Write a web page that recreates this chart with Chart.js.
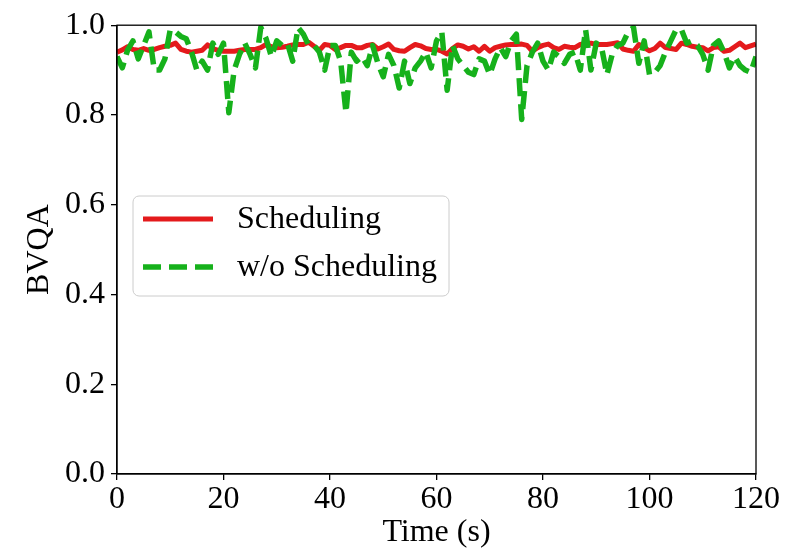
<!DOCTYPE html>
<html>
<head>
<meta charset="utf-8">
<script src="https://cdn.jsdelivr.net/npm/chart.js@4.4.0/dist/chart.umd.min.js"></script>
<style>
html,body{margin:0;padding:0;background:#fff;}
#wrap{width:805px;height:554px;}
</style>
</head>
<body>
<div id="wrap"><canvas id="c" width="805" height="554"></canvas></div>
<script>
const timeSec = Array.from({length: 121}, (_, i) => i);
const scheduling = [
0.940,0.945,0.952,0.946,0.944,0.948,0.944,0.946,0.950,0.953,
0.955,0.960,0.946,0.942,0.940,0.942,0.944,0.956,0.948,0.944,
0.942,0.942,0.942,0.944,0.946,0.946,0.946,0.950,0.957,0.952,
0.950,0.951,0.953,0.956,0.957,0.957,0.962,0.953,0.944,0.957,
0.955,0.946,0.950,0.955,0.955,0.950,0.950,0.955,0.957,0.947,
0.952,0.958,0.946,0.943,0.942,0.950,0.957,0.954,0.948,0.946,
0.946,0.942,0.936,0.948,0.956,0.953,0.947,0.952,0.942,0.953,
0.942,0.950,0.953,0.956,0.957,0.957,0.958,0.955,0.942,0.950,
0.955,0.958,0.950,0.946,0.953,0.951,0.950,0.957,0.959,0.960,
0.957,0.957,0.957,0.959,0.961,0.947,0.944,0.942,0.957,0.950,
0.943,0.948,0.960,0.950,0.948,0.946,0.960,0.957,0.953,0.951,
0.950,0.943,0.950,0.952,0.942,0.944,0.952,0.960,0.950,0.954,
0.958];
const withoutScheduling = [
0.930,0.905,0.945,0.965,0.925,0.955,0.985,0.900,0.900,0.925,
0.990,0.985,0.975,0.970,0.940,0.900,0.920,0.900,0.960,0.935,
0.960,0.805,0.900,0.935,0.960,0.935,0.905,0.995,0.970,0.930,
0.965,0.955,0.960,0.920,0.995,0.980,0.955,0.955,0.940,0.900,
0.955,0.955,0.920,0.805,0.940,0.920,0.930,0.910,0.955,0.915,
0.885,0.935,0.910,0.860,0.920,0.870,0.905,0.920,0.940,0.905,
0.965,0.985,0.855,0.955,0.925,0.910,0.895,0.890,0.925,0.920,
0.890,0.925,0.950,0.930,0.965,0.980,0.790,0.910,0.940,0.960,
0.920,0.900,0.940,0.930,0.915,0.935,0.940,0.900,0.990,0.900,
0.960,0.950,0.890,0.935,0.955,0.960,0.985,0.995,0.915,0.965,
0.890,0.895,0.910,0.940,0.965,0.990,0.990,0.960,0.965,0.955,
0.935,0.900,0.955,0.965,0.940,0.905,0.930,0.910,0.900,0.895,
0.930];
const xTicks = [0, 20, 40, 60, 80, 100, 120];
const yTicks = [0.0, 0.2, 0.4, 0.6, 0.8, 1.0];
const seriesNames = ['Scheduling', 'w/o Scheduling'];

const FONT = 'Liberation Serif';
const RED = '#e41a1c';
const GREEN = '#16b11b';

const toPts = arr => arr.map((v, i) => ({x: timeSec[i], y: v}));

const framePlugin = {
  id: 'frame',
  afterDatasetsDraw(chart) {
    const {ctx, chartArea: a} = chart;
    ctx.save();
    ctx.strokeStyle = '#000';
    ctx.lineWidth = 1.3;
    ctx.strokeRect(a.left, a.top, a.right - a.left, a.bottom - a.top);
    ctx.restore();
  }
};

const legendPlugin = {
  id: 'innerLegend',
  afterDraw(chart) {
    const {ctx} = chart;
    const x0 = 133, y0 = 196, w = 316, h = 100, r = 6;
    ctx.save();
    ctx.beginPath();
    ctx.moveTo(x0 + r, y0);
    ctx.arcTo(x0 + w, y0, x0 + w, y0 + h, r);
    ctx.arcTo(x0 + w, y0 + h, x0, y0 + h, r);
    ctx.arcTo(x0, y0 + h, x0, y0, r);
    ctx.arcTo(x0, y0, x0 + w, y0, r);
    ctx.closePath();
    ctx.fillStyle = 'rgba(255,255,255,0.8)';
    ctx.fill();
    ctx.strokeStyle = '#cccccc';
    ctx.lineWidth = 1;
    ctx.stroke();
    const rows = [219, 267];
    chart.data.datasets.forEach((ds, i) => {
      const y = rows[i];
      ctx.beginPath();
      ctx.setLineDash(ds.borderDash || []);
      ctx.lineDashOffset = 0;
      ctx.strokeStyle = ds.borderColor;
      ctx.lineWidth = ds.borderWidth;
      ctx.lineCap = 'butt';
      ctx.moveTo(143, y);
      ctx.lineTo(213, y);
      ctx.stroke();
      ctx.setLineDash([]);
      ctx.fillStyle = '#000';
      ctx.font = '32px "' + FONT + '"';
      ctx.textBaseline = 'middle';
      ctx.textAlign = 'left';
      ctx.fillText(ds.label, 237, y + 1);
    });
    ctx.restore();
  }
};

new Chart(document.getElementById('c'), {
  type: 'line',
  data: {
    datasets: [
      {label: seriesNames[0], data: toPts(scheduling), borderColor: RED, backgroundColor: RED,
       borderWidth: 5, borderJoinStyle: 'round', pointRadius: 0, tension: 0, order: 1, clip: 0},
      {label: seriesNames[1], data: toPts(withoutScheduling), borderColor: GREEN, backgroundColor: GREEN,
       borderWidth: 5.5, borderDash: [18, 8], borderCapStyle: 'butt', borderJoinStyle: 'round',
       pointRadius: 0, tension: 0, order: 0, clip: 0}
    ]
  },
  options: {
    responsive: false,
    animation: false,
    events: [],
    layout: {padding: {left: 0, right: 49, top: 17, bottom: 0}},
    plugins: {legend: {display: false}, tooltip: {enabled: false}},
    scales: {
      x: {
        type: 'linear', min: 0, max: 120,
        afterBuildTicks: s => { s.ticks = xTicks.map(v => ({value: v})); },
        afterFit: s => { s.height = 80; },
        grid: {display: true, drawOnChartArea: false, drawTicks: true, tickLength: 6, color: '#000', lineWidth: 1.3},
        border: {display: true, color: '#000', width: 1.3},
        ticks: {color: '#000', font: {family: FONT, size: 32}, padding: 0, maxRotation: 0, autoSkip: false},
        title: {display: true, text: 'Time (s)', color: '#000', font: {family: FONT, size: 32, lineHeight: 1}, padding: {top: 0, bottom: 5}}
      },
      y: {
        type: 'linear', min: 0, max: 1,
        afterBuildTicks: s => { s.ticks = yTicks.map(v => ({value: v})); },
        afterFit: s => { s.width = 117; },
        grid: {display: true, drawOnChartArea: false, drawTicks: true, tickLength: 6, color: '#000', lineWidth: 1.3},
        border: {display: true, color: '#000', width: 1.3},
        ticks: {color: '#000', font: {family: FONT, size: 32}, padding: 6, callback: v => Number(v).toFixed(1)},
        title: {display: true, text: 'BVQA', color: '#000', font: {family: FONT, size: 32, lineHeight: 1}, padding: {top: 24, bottom: 0}}
      }
    }
  },
  plugins: [framePlugin, legendPlugin]
});
</script>
</body>
</html>
